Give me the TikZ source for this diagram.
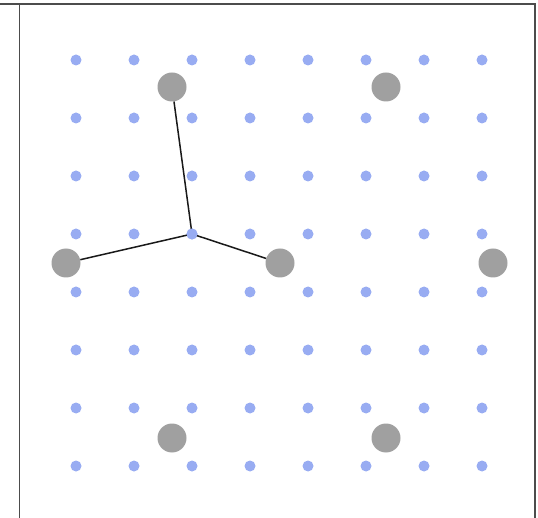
\documentclass[tikz,border=0pt]{standalone}
\begin{document}
\begin{tikzpicture}[x=1pt,y=-1pt,
  dotpt/.style={circle,fill=dotblue,inner sep=0pt,minimum size=11pt},
  atom/.style={circle,fill=atomgray,inner sep=0pt,minimum size=29pt},
  bond/.style={draw=black!90,line width=1.5pt},
  frameline/.style={draw=black!70,line width=1.7pt}]
\definecolor{dotblue}{RGB}{152,172,242}
\definecolor{atomgray}{RGB}{160,160,160}
\useasboundingbox (0,0) rectangle (538,518);
\coordinate (tl) at (0,4);
\coordinate (tr) at (535,4);
\coordinate (br) at (535,518);
\coordinate (lt) at (19.5,4);
\coordinate (lb) at (19.5,518);
\draw[frameline] (tl) -- (tr) -- (br);
\draw[frameline] (lt) -- (lb);
\foreach \i in {0,...,7}{
  \foreach \j in {0,...,7}{
    \node[dotpt] (d\i\j) at ({76+58*\i},{60+58*\j}) {};
  }
}
\node[atom] (a1) at (172,87) {};
\node[atom] (a2) at (386,87) {};
\node[atom] (a3) at (66,263) {};
\node[atom] (a4) at (280,263) {};
\node[atom] (a5) at (493,263) {};
\node[atom] (a6) at (172,438) {};
\node[atom] (a7) at (386,438) {};
\draw[bond] (d23.center) -- (a1);
\draw[bond] (d23.center) -- (a3);
\draw[bond] (d23.center) -- (a4);
\node[dotpt] at (d23) {};
\end{tikzpicture}
\end{document}
